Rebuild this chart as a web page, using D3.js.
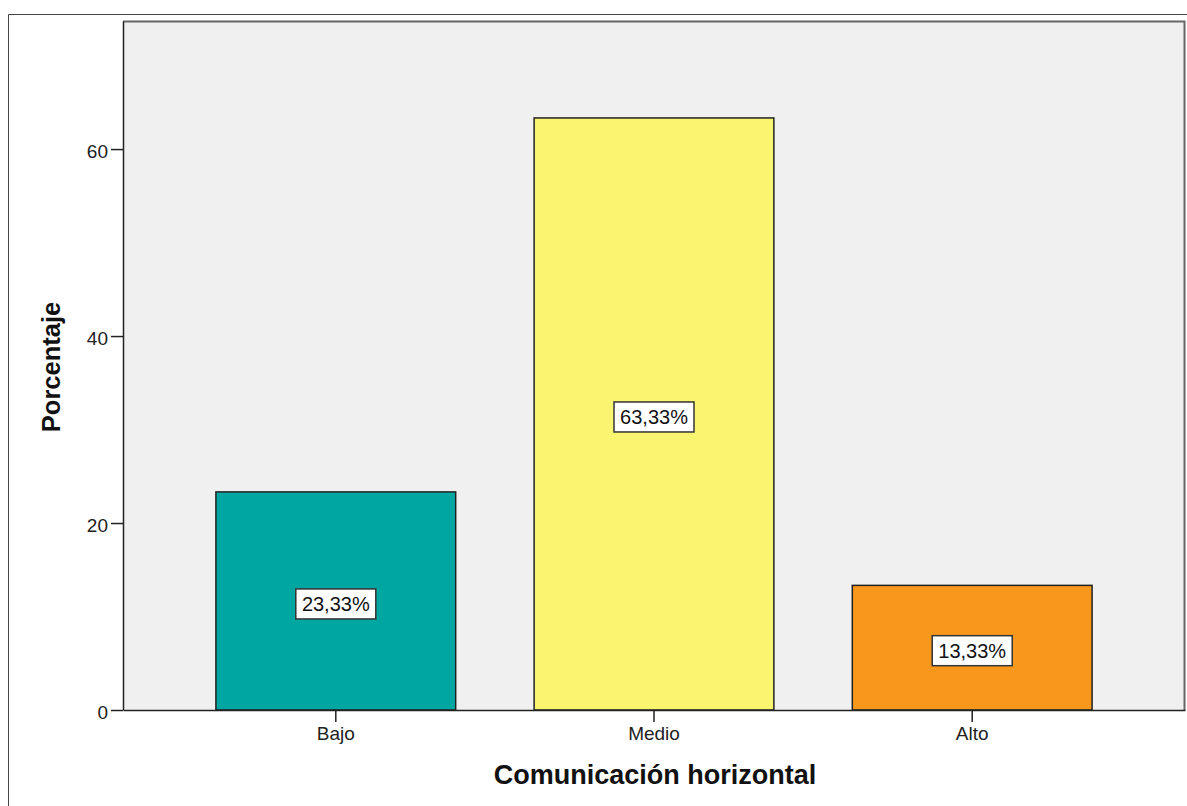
<!DOCTYPE html>
<html>
<head>
<meta charset="utf-8">
<script src="https://cdn.jsdelivr.net/npm/d3@7"></script>
<style>
body { margin: 0; background: #fff; }
text { font-family: "Liberation Sans", Arial, sans-serif; }
</style>
</head>
<body>
<div id="chart"></div>
<script>
var categories = ["Bajo", "Medio", "Alto"];
var percentages = [23.33, 63.33, 13.33];
var valueLabels = ["23,33%", "63,33%", "13,33%"];
var barColors = ["#00a6a2", "#f9f570", "#f7981d"];
var yTicks = [0, 20, 40, 60];

var W = 1187, H = 806;
var margin = { top: 21, right: 2, bottom: 96, left: 123 },
    width = W - margin.left - margin.right,
    height = H - margin.top - margin.bottom;

var svg = d3.select("#chart").append("svg")
    .attr("width", W)
    .attr("height", H);

// outer frame
svg.append("path")
    .attr("d", "M8.5," + H + "V14.5H" + W)
    .attr("fill", "none")
    .attr("stroke", "#444")
    .attr("stroke-width", 1);

var g = svg.append("g")
    .attr("transform", "translate(" + margin.left + "," + margin.top + ")");

var x = d3.scaleBand()
    .domain(categories)
    .range([0, width])
    .paddingInner(0.2465)
    .paddingOuter(0.292);

var y = d3.scaleLinear()
    .domain([0, 73.7])
    .range([height, 0]);

g.append("rect")
    .attr("width", width)
    .attr("height", height)
    .attr("fill", "#f0f0f0");

var data = categories.map(function(c, i) {
    return { cat: c, value: percentages[i], label: valueLabels[i], color: barColors[i] };
});

g.selectAll(".bar")
    .data(data)
    .enter().append("rect")
    .attr("class", "bar")
    .attr("x", function(d) { return x(d.cat); })
    .attr("y", function(d) { return y(d.value); })
    .attr("width", x.bandwidth())
    .attr("height", function(d) { return height - y(d.value); })
    .attr("fill", function(d) { return d.color; })
    .attr("stroke", "#222")
    .attr("stroke-width", 1.5);

// plot frame (top and right)
g.append("path")
    .attr("d", "M0,0.5H" + (width - 0.5) + "V" + height)
    .attr("fill", "none")
    .attr("stroke", "#666")
    .attr("stroke-width", 2);

var yAxis = g.append("g")
    .call(d3.axisLeft(y).tickValues(yTicks).tickSize(12).tickSizeOuter(0).tickPadding(3));
yAxis.select(".domain").attr("stroke", "#222").attr("stroke-width", 1.5);
yAxis.selectAll(".tick line").attr("stroke", "#222").attr("stroke-width", 1.5);
yAxis.selectAll(".tick text")
    .attr("font-size", 19)
    .attr("dy", "0.45em")
    .attr("fill", "#222")
    .attr("font-family", "Liberation Sans, Arial, sans-serif");

var xAxis = g.append("g")
    .attr("transform", "translate(0," + height + ")")
    .call(d3.axisBottom(x).tickSize(12).tickSizeOuter(0).tickPadding(5));
xAxis.select(".domain").attr("stroke", "#222").attr("stroke-width", 1.5);
xAxis.selectAll(".tick line").attr("stroke", "#222").attr("stroke-width", 1.5);
xAxis.selectAll(".tick text")
    .attr("font-size", 19)
    .attr("fill", "#222")
    .attr("font-family", "Liberation Sans, Arial, sans-serif");

// value labels
var lab = g.selectAll(".lab")
    .data(data)
    .enter().append("g")
    .attr("class", "lab")
    .attr("transform", function(d) {
        return "translate(" + (x(d.cat) + x.bandwidth() / 2) + "," + (y(d.value / 2) + 3) + ")";
    });
lab.append("rect")
    .attr("x", -40)
    .attr("y", -15)
    .attr("width", 80)
    .attr("height", 30)
    .attr("fill", "#fff")
    .attr("stroke", "#333")
    .attr("stroke-width", 1.5);
lab.append("text")
    .attr("text-anchor", "middle")
    .attr("dy", "0.36em")
    .attr("font-size", 20)
    .attr("fill", "#111")
    .text(function(d) { return d.label; });

// axis titles
svg.append("text")
    .attr("x", 655)
    .attr("y", 784)
    .attr("text-anchor", "middle")
    .attr("font-size", 27)
    .attr("font-weight", "bold")
    .attr("fill", "#111")
    .text("Comunicación horizontal");

svg.append("text")
    .attr("transform", "translate(60,367) rotate(-90)")
    .attr("text-anchor", "middle")
    .attr("font-size", 25.5)
    .attr("font-weight", "bold")
    .attr("fill", "#111")
    .text("Porcentaje");
</script>
</body>
</html>
